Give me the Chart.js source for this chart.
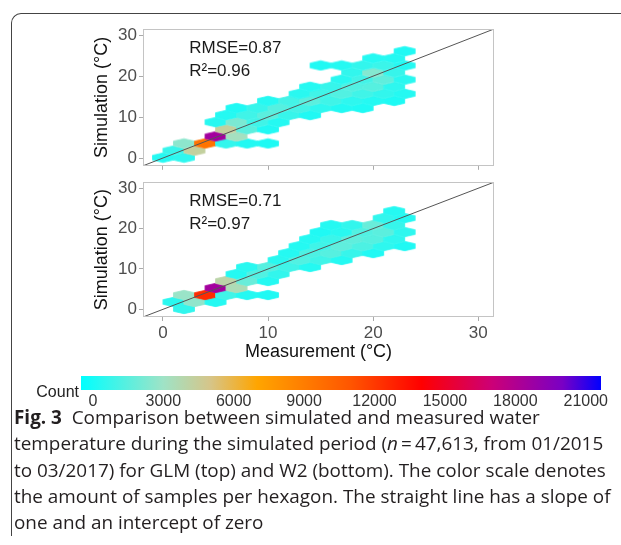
<!DOCTYPE html>
<html>
<head>
<meta charset="utf-8">
<script src="https://cdn.jsdelivr.net/npm/chart.js@4.4.1/dist/chart.umd.min.js"></script>
<style>
  body { margin: 0; width: 621px; height: 545px; background: #fff; position: relative; overflow: hidden; }
  canvas { position: absolute; left: 0; }
  #frame { position: absolute; left: 11px; top: 13px; width: 620px; height: 522px;
           border-top: 1.5px solid #444; border-left: 1.5px solid #444; border-top-left-radius: 10px; }
  #caption { position: absolute; left: 14px; top: 404px; white-space: nowrap;
             font-family: "Open Sans", sans-serif; font-size: 18.9px; line-height: 26.3px; color: #231f20; }
</style>
</head>
<body>
<div id="frame"></div>
<canvas id="glm" width="621" height="178" style="top:0px"></canvas>
<canvas id="w2" width="621" height="200" style="top:170px"></canvas>
<canvas id="cbar" width="621" height="54" style="top:361px"></canvas>
<div id="caption"><b>Fig. 3</b>&nbsp; Comparison between simulated and measured water<br>temperature during the simulated period (<i>n</i>&#8201;=&#8201;47,613, from 01/2015<br>to 03/2017) for GLM (top) and W2 (bottom). The color scale denotes<br>the amount of samples per hexagon. The straight line has a slope of<br>one and an intercept of zero</div>

<script>
// axes (both panels share them)
const axisRange = [-1.9, 31.5];
const axisTicks = [0, 10, 20, 30];

// hexagon centres (measurement, simulation) and sample counts, GLM (top)
const glmX = [
  0, 2,
  1, 3,
  2, 4, 6, 8, 10,
  5, 7,
  6, 8, 10,
  5, 7, 9, 11,
  6, 8, 10, 12, 14,
  7, 9, 11, 13, 15, 17, 19,
  10, 12, 14, 16, 18, 20, 22,
  13, 15, 17, 19, 21, 23,
  14, 16, 18, 20, 22,
  17, 19, 21, 23,
  18, 20, 22,
  15, 17, 19, 21, 23,
  20, 22,
  23
];
const glmY = [
  0.09, 0.09,
  1.82, 1.82,
  3.55, 3.55, 3.55, 3.55, 3.55,
  5.28, 5.28,
  7.01, 7.01, 7.01,
  8.75, 8.75, 8.75, 8.75,
  10.48, 10.48, 10.48, 10.48, 10.48,
  12.21, 12.21, 12.21, 12.21, 12.21, 12.21, 12.21,
  13.94, 13.94, 13.94, 13.94, 13.94, 13.94, 13.94,
  15.67, 15.67, 15.67, 15.67, 15.67, 15.67,
  17.4, 17.4, 17.4, 17.4, 17.4,
  19.13, 19.13, 19.13, 19.13,
  20.87, 20.87, 20.87,
  22.6, 22.6, 22.6, 22.6, 22.6,
  24.33, 24.33,
  26.07
];
const glmN = [
  300, 500,
  700, 4300,
  2600, 9500, 600, 250, 150,
  18500, 3200,
  4300, 1500, 200,
  350, 2200, 900, 300,
  300, 900, 1500, 700, 200,
  200, 700, 1400, 1000, 500, 250, 150,
  300, 1000, 1500, 900, 500, 300, 150,
  400, 900, 1300, 900, 600, 300,
  300, 700, 1300, 1400, 500,
  400, 1000, 1600, 400,
  600, 2400, 700,
  200, 300, 600, 800, 300,
  300, 300,
  200
];

// W2 (bottom)
const w2X = [
  2,
  1, 3, 5,
  2, 4, 6, 8, 10,
  5, 7,
  6, 8, 10,
  7, 9, 11,
  8, 10, 12, 14,
  11, 13, 15, 17,
  12, 14, 16, 18, 20,
  13, 15, 17, 19, 21, 23,
  14, 16, 18, 20, 22,
  15, 17, 19, 21, 23,
  16, 18, 20, 22,
  21, 23,
  22
];
const w2Y = [
  0.09,
  1.82, 1.82, 1.82,
  3.55, 3.55, 3.55, 3.55, 3.55,
  5.28, 5.28,
  7.01, 7.01, 7.01,
  8.75, 8.75, 8.75,
  10.48, 10.48, 10.48, 10.48,
  12.21, 12.21, 12.21, 12.21,
  13.94, 13.94, 13.94, 13.94, 13.94,
  15.67, 15.67, 15.67, 15.67, 15.67, 15.67,
  17.4, 17.4, 17.4, 17.4, 17.4,
  19.13, 19.13, 19.13, 19.13, 19.13,
  20.87, 20.87, 20.87, 20.87,
  22.6, 22.6,
  24.33
];
const w2N = [
  600,
  400, 2700, 300,
  2900, 12500, 900, 300, 200,
  18500, 3500,
  4000, 1800, 300,
  300, 1300, 600,
  400, 1400, 900, 300,
  400, 1300, 900, 300,
  300, 1200, 1400, 700, 200,
  300, 900, 1600, 1200, 500, 200,
  300, 800, 1600, 1400, 500,
  200, 400, 1300, 1500, 500,
  300, 600, 1800, 700,
  600, 300,
  300
];

const glmStats = ['RMSE=0.87', 'R²=0.96'];
const w2Stats = ['RMSE=0.71', 'R²=0.97'];

// colour bar
const countRange = [-507, 21650];
const countTicks = [0, 3000, 6000, 9000, 12000, 15000, 18000, 21000];
const rampCounts = [-507, 3000, 5000, 7000, 11000, 14000, 17000, 20000, 21650];
const rampColors = ['#00ffff', '#9fe3c6', '#d6c589', '#ffa500', '#ff5500', '#ff0000', '#cc0077', '#7a00c4', '#0000ff'];

// layout bits
const hexWidth = 2;
const hexHeight = hexWidth * 2 / Math.sqrt(3);
const statX = 2.5;
const statY = [26.8, 21.1];
const FONT = '"Liberation Sans", Arial, sans-serif';

Chart.defaults.font.family = FONT;

function hexToRgb(h) {
  return [1, 3, 5].map(i => parseInt(h.slice(i, i + 2), 16));
}

function countColor(n) {
  let i = 0;
  while (i < rampCounts.length - 2 && n > rampCounts[i + 1]) i++;
  const t = Math.max(0, Math.min(1, (n - rampCounts[i]) / (rampCounts[i + 1] - rampCounts[i])));
  const a = hexToRgb(rampColors[i]), b = hexToRgb(rampColors[i + 1]);
  const c = a.map((v, k) => Math.round(v + (b[k] - v) * t));
  return 'rgb(' + c.join(',') + ')';
}

const hexCache = {};
function hexStyle(ctx, counts) {
  if (ctx.dataIndex === undefined) return 'circle';
  const xs = ctx.chart.scales.x, ys = ctx.chart.scales.y;
  const w = Math.abs(xs.getPixelForValue(hexWidth) - xs.getPixelForValue(0));
  const h = Math.abs(ys.getPixelForValue(hexHeight) - ys.getPixelForValue(0));
  const color = countColor(counts[ctx.dataIndex]);
  const key = color + w.toFixed(2) + h.toFixed(2);
  if (hexCache[key]) return hexCache[key];
  const cv = document.createElement('canvas');
  cv.width = Math.ceil(w) + 2;
  cv.height = Math.ceil(h) + 2;
  const g = cv.getContext('2d');
  const cx = cv.width / 2, cy = cv.height / 2;
  g.beginPath();
  g.moveTo(cx, cy - h / 2);
  g.lineTo(cx + w / 2, cy - h / 4);
  g.lineTo(cx + w / 2, cy + h / 4);
  g.lineTo(cx, cy + h / 2);
  g.lineTo(cx - w / 2, cy + h / 4);
  g.lineTo(cx - w / 2, cy - h / 4);
  g.closePath();
  g.fillStyle = color;
  g.strokeStyle = color;
  g.lineWidth = 0.8;
  g.fill();
  g.stroke();
  hexCache[key] = cv;
  return cv;
}

const panelBorder = {
  id: 'panelBorder',
  afterDraw(chart) {
    const a = chart.chartArea, c = chart.ctx;
    c.save();
    c.strokeStyle = '#c4c4c4';
    c.lineWidth = 1;
    c.strokeRect(Math.round(a.left) + 0.5, Math.round(a.top) + 0.5,
                 Math.round(a.right - a.left) - 1, Math.round(a.bottom - a.top) - 1);
    c.restore();
  }
};

const statsText = {
  id: 'statsText',
  afterDatasetsDraw(chart, args, opts) {
    const c = chart.ctx, xs = chart.scales.x, ys = chart.scales.y;
    c.save();
    c.font = '17px ' + FONT;
    c.fillStyle = '#1a1a1a';
    c.textAlign = 'left';
    c.textBaseline = 'middle';
    opts.lines.forEach((t, i) => c.fillText(t, xs.getPixelForValue(statX), ys.getPixelForValue(statY[i])));
    c.restore();
  }
};

function panelChart(id, xs, ys, ns, stats, bottom) {
  const xAxisHeight = bottom ? 48 : 4;
  const padTop = bottom ? 6 : 29;
  const canvasH = bottom ? 200 : 178;
  const areaBottom = bottom ? 147 : 170;
  return new Chart(document.getElementById(id), {
    data: {
      datasets: [
        {
          type: 'line',
          data: [{x: axisRange[0], y: axisRange[0]}, {x: axisRange[1], y: axisRange[1]}],
          borderColor: '#555',
          borderWidth: 1,
          pointRadius: 0,
          order: 0
        },
        {
          type: 'scatter',
          data: xs.map((x, i) => ({x: x, y: ys[i]})),
          pointStyle: ctx => hexStyle(ctx, ns),
          order: 1
        }
      ]
    },
    options: {
      responsive: false,
      animation: false,
      events: [],
      layout: {padding: {left: 83, right: 127, top: padTop, bottom: canvasH - areaBottom - xAxisHeight}},
      plugins: {legend: {display: false}, tooltip: {enabled: false}, statsText: {lines: stats}},
      scales: {
        x: {
          type: 'linear', min: axisRange[0], max: axisRange[1],
          afterBuildTicks: s => { s.ticks = axisTicks.map(v => ({value: v})); },
          afterFit: s => { s.height = xAxisHeight; },
          grid: {drawOnChartArea: false, tickLength: 4, color: '#aaa'},
          border: {display: false},
          ticks: {display: bottom, font: {size: 17}, color: '#4d4d4d', padding: 2, maxRotation: 0},
          title: {display: bottom, text: 'Measurement (°C)', font: {size: 18}, color: '#111', padding: {top: 0, bottom: 1.7}}
        },
        y: {
          type: 'linear', min: axisRange[0], max: axisRange[1],
          afterBuildTicks: s => { s.ticks = axisTicks.map(v => ({value: v})); },
          afterFit: s => { s.width = 60; },
          grid: {drawOnChartArea: false, tickLength: 4, color: '#aaa'},
          border: {display: false},
          ticks: {font: {size: 17}, color: '#4d4d4d', padding: 2},
          title: {display: true, text: 'Simulation (°C)', font: {size: 18}, color: '#111', padding: {top: 8.5, bottom: 0}}
        }
      }
    },
    plugins: [panelBorder, statsText]
  });
}

panelChart('glm', glmX, glmY, glmN, glmStats, false);
panelChart('w2', w2X, w2Y, w2N, w2Stats, true);

function rampGradient(chart) {
  const xs = chart.scales.x;
  if (!chart.chartArea || !xs) return rampColors[0];
  const first = rampCounts[0], last = rampCounts[rampCounts.length - 1];
  const g = chart.ctx.createLinearGradient(xs.getPixelForValue(first), 0, xs.getPixelForValue(last), 0);
  rampCounts.forEach((v, i) => g.addColorStop((v - first) / (last - first), rampColors[i]));
  return g;
}

new Chart(document.getElementById('cbar'), {
  type: 'bar',
  data: {
    labels: ['Count'],
    datasets: [{
      data: [countRange],
      backgroundColor: ctx => rampGradient(ctx.chart),
      borderWidth: 0,
      barPercentage: 1,
      categoryPercentage: 1
    }]
  },
  options: {
    indexAxis: 'y',
    responsive: false,
    animation: false,
    events: [],
    layout: {padding: {left: 0, right: 20, top: 15, bottom: 0}},
    plugins: {legend: {display: false}, tooltip: {enabled: false}},
    scales: {
      x: {
        type: 'linear', min: countRange[0], max: countRange[1],
        afterBuildTicks: s => { s.ticks = countTicks.map(v => ({value: v})); },
        afterFit: s => { s.height = 25; },
        grid: {display: false, drawTicks: false},
        border: {display: false},
        ticks: {font: {size: 16}, color: '#333', padding: 2, maxRotation: 0, autoSkip: false,
                callback: v => String(v)}
      },
      y: {
        afterFit: s => { s.width = 81; },
        grid: {display: false, drawTicks: false},
        border: {display: false},
        ticks: {font: {size: 16}, color: '#222', padding: 2, labelOffset: 10}
      }
    }
  }
});
</script>
</body>
</html>
